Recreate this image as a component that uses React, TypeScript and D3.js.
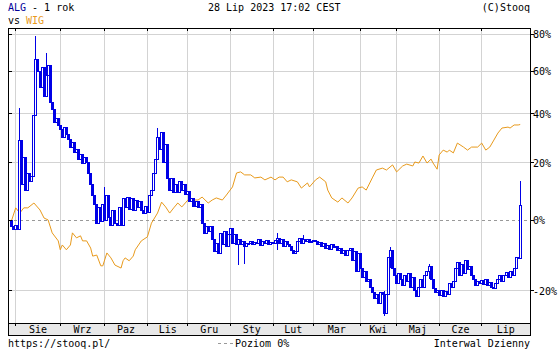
import React from "react";
import * as d3 from "d3";

const monthLabels = ["Sie", "Wrz", "Paz", "Lis", "Gru", "Sty", "Lut", "Mar", "Kwi", "Maj", "Cze", "Lip"];
const monthStartDay = [2, 24, 46, 67, 87, 108, 129, 149, 172, 190, 211, 232];
const lastDay = 251;
const yTicks = [-20, 0, 20, 40, 60, 80];

// ALG daily close, % change vs. base (one value per trading day)
const algClose = [
  -2.0, -3.0, -1.5, -2.8, 28.8, 12, 22, 10, 16, 13,
  15, 39, 66, 60, 52, 62, 48, 58, 63, 45,
  42, 36, 38, 35, 33, 30, 34, 31, 29, 26,
  28, 24, 25, 21, 23, 19.5, 22, 20, 16, 12,
  8, 5, -1, 4, -0.5, 5, 0, 8, 1, -1.5,
  3, -1, -1.5, 4, -1.5, 7, 4, 7.5, 3.5, 7,
  3, 6.5, 4, 6, 3, 2, 4.5, 2.5, 8, 10,
  16, 21, 30, 25, 32, 20, 27, 14, 10, 14,
  9, 12, 9, 13, 10, 12, 8.5, 9.5, 6, 7,
  4.5, 6, 4, 5, -1, -4, -2, -3.5, -2, -6,
  -9.5, -7, -10, -4, -7.5, -3.5, -8, -4.5, -2.5, -7,
  -4.5, -7.5, -6, -7.5, -6.5, -8, -7, -7, -6.5, -7.5,
  -6.8, -7.2, -6, -7.8, -6.6, -7, -6.3, -7.4, -6.8, -7,
  -6.2, -5.5, -7, -6, -8, -6.5, -7.5, -8, -9, -10,
  -9.5, -6.5, -5.5, -7, -5.8, -6.5, -6, -6.8, -6.4, -6.2,
  -6.5, -7.5, -6.8, -8, -7.2, -8.5, -7.6, -8.8, -7.5, -8.2,
  -8, -9, -8.5, -10, -9, -10.5, -9, -8.5, -12, -9.5,
  -15, -10, -14, -16.5, -15, -17.5, -17, -19, -20.5, -22,
  -21, -23, -20.5, -21, -25.5, -21, -11, -9, -14, -16,
  -18, -15.5, -17, -18.5, -16, -17.5, -15.5, -19, -16.5, -20,
  -21.5, -19, -17, -19, -16, -15, -13.5, -17, -19.5, -20.5,
  -19.8, -21.2, -20, -21.5, -20.2, -21, -18, -19, -17.5, -14,
  -12.5, -16, -13, -15.5, -12, -14.5, -13.5, -16, -17, -18.5,
  -17.5, -18, -17.2, -18.3, -17, -18.5, -17.8, -19, -19.5, -18,
  -17, -16, -17.5, -16, -15.2, -16.5, -15, -16, -14, -11,
  -11.5, 4.9,
];
const algBase = 0;
// extra wicks: [day, low %, high %]
const algWicks: [number, number, number][] = [
  [4, -3, 42.5], [12, 55, 78.9], [17, 48, 69.5], [46, 0, 11], [72, 25, 33.8],
  [112, -13.2, -6], [115, -13, -7], [131, -9, -3.9], [144, -7, -4.5],
  [184, -26, -20], [187, -14, -8], [206, -17, -13], [251, -11.5, 13.2],
];

const wigDay = [
  0, 2, 4, 6, 8, 11, 14, 16, 18, 20, 23, 24, 25, 27, 29, 30, 32, 34, 35, 37,
  39, 40, 42, 44, 45, 47, 49, 51, 54, 55, 56, 58, 60, 61, 64, 67, 69, 72, 74, 76,
  78, 80, 82, 84, 87, 90, 92, 94, 97, 99, 101, 104, 106, 109, 111, 113, 115, 118, 120, 123,
  125, 128, 130, 132, 134, 136, 138, 141, 143, 146, 147, 150, 152, 155, 156, 158, 161, 163, 166, 168,
  171, 173, 175, 178, 180, 183, 185, 188, 190, 193, 195, 198, 199, 201, 203, 205, 207, 208, 210, 211,
  213, 215, 216, 218, 220, 223, 225, 227, 230, 232, 234, 236, 238, 240, 242, 245, 246, 248, 250, 251,
];
const wigPct = [
  0.0, 4.0, 2.3, 4.0, 4.0, 5.6, 3.3, 0.7, 0.1, -3.9, -6.3, -8.9, -7.5, -8.9, -7.5, -3.9, -5.4, -4.8, -6.3, -6.3,
  -8.4, -10.7, -10.4, -13.4, -13.4, -9.8, -11.2, -13.2, -14.0, -12.0, -11.2, -12.0, -10.7, -8.9, -6.3, -5.1, -0.9, 2.3, 5.9, 4.3,
  2.3, 4.0, 5.6, 4.3, 6.6, 6.6, 6.6, 7.6, 5.6, 6.6, 7.3, 6.6, 8.3, 11.1, 16.1, 16.5, 15.4, 15.4, 14.3, 14.6,
  13.6, 14.6, 13.6, 14.6, 14.6, 12.9, 13.6, 12.9, 10.7, 12.5, 11.1, 13.6, 14.6, 12.9, 10.0, 7.3, 5.9, 7.3, 5.6, 7.3,
  10.7, 11.1, 10.0, 14.3, 17.2, 17.9, 17.2, 19.1, 16.5, 18.7, 19.4, 18.7, 20.2, 19.8, 22.5, 19.8, 21.3, 19.8, 17.5, 22.9,
  24.8, 24.0, 24.8, 23.7, 27.6, 26.0, 24.8, 26.0, 26.0, 27.6, 24.8, 26.0, 28.8, 31.7, 33.8, 34.2, 33.8, 35.1, 35.1, 35.3,
];

const BLUE = "#0000e6";
const ORANGE = "#e89a1c";
const FONT = "'DejaVu Sans Mono', monospace";

export default function App() {
  const left = 8, right = 530, top = 28, plotBottom = 323, axisBottom = 335;
  const x = d3.scaleLinear().domain([0, lastDay]).range([11.65, 520.2]);
  const y = d3.scaleLog().domain([0.723, 1.835]).range([plotBottom, top]);
  const yp = (p: number) => y(1 + p / 100);

  const wigLine = d3
    .line<number>()
    .x((_, i) => x(wigDay[i]))
    .y((d) => yp(d))(wigPct) as string;

  const monthEdges = monthStartDay.map((d) => x(d));
  const labelCenters = monthEdges.map((e, i) => (e + (i + 1 < monthEdges.length ? monthEdges[i + 1] : right)) / 2);

  const candles = algClose.map((c, i) => {
    const o = i === 0 ? algBase : algClose[i - 1];
    const hi = Math.max(o, c), lo = Math.min(o, c);
    const yTop = yp(hi), yBot = yp(lo);
    const cx = x(i);
    return (
      <rect
        key={"c" + i}
        x={cx - 1}
        y={yTop}
        width={2}
        height={Math.max(1, yBot - yTop)}
        fill={c >= o ? "#ffffff" : BLUE}
        stroke={BLUE}
        strokeWidth={1}
      />
    );
  });

  return (
    <svg width={560} height={350} style={{ position: "absolute", left: 0, top: 0, background: "#fff" }}
      fontFamily={FONT} fontSize={10}>
      <rect x={0} y={0} width={560} height={350} fill="#fff" />
      {/* header */}
      <text x={8} y={11}>
        <tspan fill="#000099">ALG</tspan>
        <tspan fill="#000"> - 1 rok</tspan>
      </text>
      <text x={8} y={24}>
        <tspan fill="#000">vs </tspan>
        <tspan fill={ORANGE}>WIG</tspan>
      </text>
      <text x={208} y={11} fill="#000">28 Lip 2023 17:02 CEST</text>
      <text x={530} y={11} fill="#000" textAnchor="end">(C)Stooq</text>

      {/* grid */}
      <g stroke="#d3d3d3" strokeWidth={1} shapeRendering="crispEdges">
        {monthEdges.map((e, i) => (
          <line key={"vg" + i} x1={e} x2={e} y1={top} y2={plotBottom} />
        ))}
        {yTicks.filter((t) => t !== 0).map((t) => (
          <line key={"hg" + t} x1={left} x2={right} y1={yp(t)} y2={yp(t)} />
        ))}
      </g>
      <line x1={left} x2={right} y1={yp(0)} y2={yp(0)} stroke="#999" strokeDasharray="3,3" shapeRendering="crispEdges" />

      {/* WIG */}
      <path d={wigLine} fill="none" stroke={ORANGE} strokeWidth={1} />

      {/* ALG candles */}
      <g shapeRendering="crispEdges">
        {algWicks.map(([d, lo, hi], k) => (
          <line key={"w" + k} x1={x(d)} x2={x(d)} y1={yp(hi)} y2={yp(lo)} stroke={BLUE} strokeWidth={1} />
        ))}
        {candles}
      </g>

      {/* frame and axis band */}
      <rect x={left} y={plotBottom} width={right - left} height={axisBottom - plotBottom} fill="#e8e8e8" stroke="#000" shapeRendering="crispEdges" />
      <rect x={left} y={top} width={right - left} height={axisBottom - top} fill="none" stroke="#000" shapeRendering="crispEdges" />
      <g stroke="#000" shapeRendering="crispEdges">
        {monthEdges.map((e, i) => (
          <g key={"mt" + i}>
            <line x1={e} x2={e} y1={top} y2={top + 3} />
            <line x1={e} x2={e} y1={plotBottom} y2={plotBottom + 3} />
          </g>
        ))}
        {yTicks.map((t) => (
          <g key={"yt" + t}>
            <line x1={left} x2={left + 4} y1={yp(t)} y2={yp(t)} />
            <line x1={right} x2={right + 4} y1={yp(t)} y2={yp(t)} />
          </g>
        ))}
      </g>
      {monthLabels.map((m, i) => (
        <text key={"ml" + i} x={labelCenters[i]} y={333} textAnchor="middle" fill="#000">{m}</text>
      ))}
      {yTicks.map((t) => (
        <text key={"yl" + t} x={533} y={yp(t) + 4} fill="#000">{t + "%"}</text>
      ))}

      {/* footer */}
      <text x={8} y={347} fill="#000">https://stooq.pl/</text>
      <line x1={218} x2={233} y1={343.5} y2={343.5} stroke="#999" strokeDasharray="3,3" shapeRendering="crispEdges" />
      <text x={235} y={347} fill="#000">Poziom 0%</text>
      <text x={530} y={347} fill="#000" textAnchor="end">Interwal Dzienny</text>
    </svg>
  );
}
